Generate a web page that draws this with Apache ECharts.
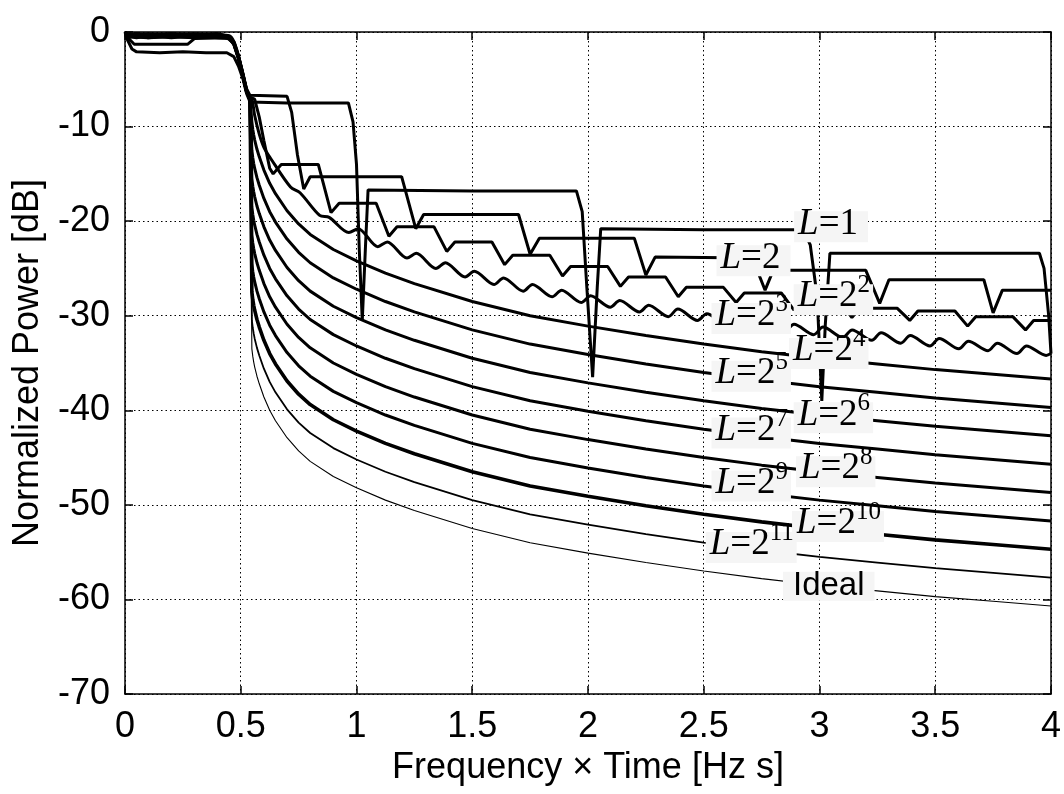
<!DOCTYPE html>
<html><head><meta charset="utf-8">
<script src="https://cdn.jsdelivr.net/npm/echarts@6/dist/echarts.min.js"></script>
<style>html,body{margin:0;padding:0;background:#fff}#c{width:1064px;height:794px}</style>
</head><body><div id="c"></div>
<script>
// ---- data ----
const xSmooth = [0,0.05,0.1,0.2,0.3,0.4,0.45,0.47,0.49,0.51,0.525,0.54,0.548,0.552,0.556,0.56,0.57,0.58,0.6,0.625,0.65,0.7,0.75,0.8,0.9,1.0,1.125,1.25,1.5,1.75,2.0,2.25,2.5,2.75,3.0,3.25,3.5,3.75,4.0];

const ideal  = [-0.1,-0.2,-0.1,-0.2,-0.1,-0.2,-0.4,-1.0,-2.5,-4.5,-6.2,-7.0,-33.5,-34.3,-34.9,-35.4,-36.4,-37.2,-38.6,-40.0,-41.1,-42.9,-44.3,-45.4,-47.0,-48.2,-49.5,-50.6,-52.5,-54.0,-55.1,-56.1,-57.0,-57.8,-58.5,-59.1,-59.7,-60.2,-60.7];
const L2048 = [-0.2,-0.3,-0.2,-0.3,-0.2,-0.3,-0.4,-1.0,-2.5,-4.5,-6.2,-7.0,-30.5,-31.3,-31.9,-32.4,-33.4,-34.2,-35.6,-37.0,-38.1,-39.9,-41.3,-42.4,-44.0,-45.2,-46.5,-47.6,-49.5,-51.0,-52.1,-53.1,-54.0,-54.8,-55.5,-56.1,-56.7,-57.2,-57.7];
const L1024 = [-0.3,-0.2,-0.3,-0.2,-0.3,-0.2,-0.5,-1.1,-2.6,-4.6,-6.2,-7.0,-27.5,-28.3,-28.9,-29.4,-30.4,-31.2,-32.6,-34.0,-35.1,-36.9,-38.3,-39.4,-41.0,-42.2,-43.5,-44.6,-46.5,-48.0,-49.1,-50.1,-51.0,-51.8,-52.5,-53.1,-53.7,-54.2,-54.7];
const L512  = [-0.2,-0.4,-0.2,-0.4,-0.2,-0.4,-0.5,-1.1,-2.6,-4.6,-6.2,-7.0,-24.5,-25.3,-25.9,-26.4,-27.4,-28.2,-29.6,-31.0,-32.1,-33.9,-35.3,-36.4,-38.0,-39.2,-40.5,-41.6,-43.5,-45.0,-46.1,-47.1,-48.0,-48.8,-49.5,-50.1,-50.7,-51.2,-51.7];
const L256  = [-0.4,-0.2,-0.4,-0.2,-0.4,-0.2,-0.5,-1.1,-2.6,-4.6,-6.2,-7.0,-21.5,-22.3,-22.9,-23.4,-24.4,-25.2,-26.6,-28.0,-29.1,-30.9,-32.3,-33.4,-35.0,-36.2,-37.5,-38.6,-40.5,-42.0,-43.1,-44.1,-45.0,-45.8,-46.5,-47.1,-47.7,-48.2,-48.7];
const L128  = [-0.3,-0.5,-0.3,-0.5,-0.3,-0.5,-0.6,-1.2,-2.7,-4.7,-6.3,-7.0,-18.5,-19.3,-19.9,-20.4,-21.4,-22.2,-23.6,-25.0,-26.1,-27.9,-29.3,-30.4,-32.0,-33.2,-34.5,-35.6,-37.5,-39.0,-40.1,-41.1,-42.0,-42.8,-43.5,-44.1,-44.7,-45.2,-45.7];
const L64   = [-0.5,-0.3,-0.5,-0.3,-0.5,-0.3,-0.6,-1.2,-2.7,-4.7,-6.3,-7.0,-15.5,-16.3,-16.9,-17.4,-18.4,-19.2,-20.6,-22.0,-23.1,-24.9,-26.3,-27.4,-29.0,-30.2,-31.5,-32.6,-34.5,-36.0,-37.1,-38.1,-39.0,-39.8,-40.5,-41.1,-41.7,-42.2,-42.7];
const L32   = [-0.4,-0.6,-0.4,-0.6,-0.4,-0.6,-0.7,-1.3,-2.8,-4.8,-6.3,-7.0,-12.5,-13.3,-13.9,-14.4,-15.4,-16.2,-17.6,-19.0,-20.1,-21.9,-23.3,-24.4,-26.0,-27.2,-28.5,-29.6,-31.5,-33.0,-34.1,-35.1,-36.0,-36.8,-37.5,-38.1,-38.7,-39.2,-39.7];
const L16   = [-0.6,-0.4,-0.6,-0.4,-0.6,-0.4,-0.7,-1.3,-2.8,-4.8,-6.3,-7.0,-9.5,-10.3,-10.9,-11.4,-12.4,-13.2,-14.6,-16.0,-17.1,-18.9,-20.3,-21.4,-23.0,-24.2,-25.5,-26.6,-28.5,-30.0,-31.1,-32.1,-33.0,-33.8,-34.5,-35.1,-35.7,-36.2,-36.7];

const L8 = [[0,0],[0.02,-0.3],[0.1,-0.2],[0.2,-0.3],[0.3,-0.2],[0.4,-0.3],[0.45,-0.4],[0.47,-1.0],[0.49,-2.5],[0.51,-4.5],[0.525,-6.2],[0.54,-7.0],[0.55,-7.3],[0.56,-8.8],[0.58,-10.8],[0.6,-12.2],[0.63,-13.4],[0.715,-16.4],[0.756,-17.0],[0.841,-19.4],[0.882,-19.6],[0.967,-21.2],[1.007,-20.8],[1.092,-22.7],[1.133,-22.2],[1.218,-23.9],[1.258,-23.4],[1.343,-25.0],[1.384,-24.4],[1.469,-25.9],[1.509,-25.3],[1.594,-26.7],[1.635,-26.0],[1.72,-27.4],[1.76,-26.7],[1.845,-28.0],[1.886,-27.3],[1.971,-28.6],[2.011,-27.9],[2.096,-29.1],[2.137,-28.4],[2.222,-29.6],[2.262,-28.9],[2.347,-30.1],[2.388,-29.3],[2.473,-30.5],[2.513,-29.8],[2.598,-30.9],[2.639,-30.2],[2.724,-31.3],[2.764,-30.5],[2.849,-31.7],[2.89,-30.9],[2.975,-32.0],[3.015,-31.2],[3.1,-32.3],[3.141,-31.5],[3.226,-32.6],[3.266,-31.8],[3.351,-32.9],[3.392,-32.1],[3.477,-33.2],[3.517,-32.4],[3.602,-33.5],[3.643,-32.7],[3.728,-33.7],[3.768,-32.9],[3.853,-34.0],[3.894,-33.2],[3.979,-34.2],[4.0,-34.0]];

const L4 = [[0,0],[0.02,-0.5],[0.1,-0.6],[0.2,-0.5],[0.3,-0.6],[0.4,-0.5],[0.45,-0.6],[0.47,-1.1],[0.49,-2.6],[0.51,-4.6],[0.525,-6.2],[0.54,-6.9],[0.56,-7.1],[0.58,-9.0],[0.6,-11.5],[0.625,-14.4],[0.64,-15.0],[0.675,-14.0],[0.835,-14.0],[0.89,-19.1],[0.925,-18.1],[1.085,-18.1],[1.14,-21.6],[1.175,-20.6],[1.335,-20.6],[1.39,-23.2],[1.425,-22.2],[1.585,-22.2],[1.64,-24.6],[1.675,-23.6],[1.835,-23.6],[1.89,-25.8],[1.925,-24.8],[2.085,-24.8],[2.14,-26.9],[2.175,-25.9],[2.335,-25.9],[2.39,-28.0],[2.425,-27.0],[2.585,-27.0],[2.64,-28.6],[2.675,-27.6],[2.835,-27.6],[2.89,-29.4],[2.925,-28.4],[3.085,-28.4],[3.14,-30.2],[3.175,-29.2],[3.335,-29.2],[3.39,-30.5],[3.425,-29.5],[3.585,-29.5],[3.64,-31.1],[3.675,-30.1],[3.835,-30.1],[3.89,-31.5],[3.925,-30.5],[4.0,-30.5]];

const L2 = [[0,0],[0.02,-0.8],[0.04,-1.3],[0.27,-1.3],[0.3,-0.7],[0.44,-0.6],[0.47,-1.2],[0.49,-2.6],[0.51,-4.5],[0.525,-6.0],[0.54,-6.7],[0.7,-6.8],[0.72,-8.5],[0.745,-13.0],[0.772,-16.6],[0.8,-15.3],[1.195,-15.3],[1.256,-20.8],[1.29,-19.3],[1.7,-19.3],[1.75,-23.5],[1.79,-21.8],[2.2,-21.8],[2.25,-25.7],[2.29,-23.8],[2.71,-23.9],[2.765,-27.3],[2.8,-25.2],[3.2,-25.2],[3.26,-28.7],[3.3,-26.2],[3.71,-26.2],[3.75,-29.7],[3.79,-27.3],[4.0,-27.3]];

const L1 = [[0,0],[0.01,-0.8],[0.03,-1.8],[0.05,-2.1],[0.15,-2.2],[0.25,-2.1],[0.35,-2.2],[0.44,-2.2],[0.47,-2.6],[0.49,-3.6],[0.51,-5.0],[0.525,-6.5],[0.54,-7.4],[0.7,-7.5],[0.965,-7.5],[0.985,-9.5],[1.0,-14.0],[1.012,-23.0],[1.025,-30.5],[1.04,-22.0],[1.05,-16.7],[1.5,-16.8],[1.95,-16.8],[1.975,-19.0],[1.995,-27.0],[2.02,-36.5],[2.04,-27.0],[2.055,-20.8],[2.5,-20.9],[2.93,-20.9],[2.96,-22.5],[2.99,-28.0],[3.01,-39.0],[3.025,-31.0],[3.045,-23.4],[3.5,-23.4],[3.95,-23.4],[3.97,-25.0],[3.99,-30.0],[4.0,-34.0]];

const labelText = ['{i|L}{n|=1}','{i|L}{n|=2}','{i|L}{n|=2}{s|2}','{i|L}{n|=2}{s|3}','{i|L}{n|=2}{s|4}','{i|L}{n|=2}{s|5}','{i|L}{n|=2}{s|6}','{i|L}{n|=2}{s|7}','{i|L}{n|=2}{s|8}','{i|L}{n|=2}{s|9}','{i|L}{n|=2}{s|10}','{i|L}{n|=2}{s|11}','{a|Ideal}'];
const labelX = [3.05,2.715,3.06,2.705,3.04,2.705,3.06,2.705,3.07,2.705,3.08,2.705,3.04];
const labelY = [-20.6,-24.2,-28.3,-30.3,-34.0,-36.4,-40.8,-42.4,-46.5,-48.0,-52.3,-54.5,-58.6];

// ---- chart ----
const SANS = 'Liberation Sans, Arial, sans-serif';
const SERIF = 'Liberation Serif, Times New Roman, serif';
const zip = (xs, ys) => xs.map((x, i) => [x, ys[i]]);

function lineSeries(data, width, smooth) {
  return { type: 'line', data: data, showSymbol: false, symbol: 'none', silent: true,
    smooth: smooth || false,
    lineStyle: { color: '#000', width: width }, z: 3, animation: false, clip: true };
}

const series = [
  lineSeries(zip(xSmooth, ideal), 1.1),
  lineSeries(zip(xSmooth, L2048), 1.8),
  lineSeries(zip(xSmooth, L1024), 3.6),
  lineSeries(zip(xSmooth, L512), 3),
  lineSeries(zip(xSmooth, L256), 3),
  lineSeries(zip(xSmooth, L128), 3),
  lineSeries(zip(xSmooth, L64), 3),
  lineSeries(zip(xSmooth, L32), 3),
  lineSeries(zip(xSmooth, L16), 3),
  lineSeries(L8, 3, 0.3),
  lineSeries(L4, 3),
  lineSeries(L2, 3),
  lineSeries(L1, 3),
  {
    type: 'scatter', silent: true, z: 10, animation: false,
    symbol: 'circle', symbolSize: 2, itemStyle: { color: 'rgba(0,0,0,0)' },
    data: labelText.map((t, i) => ({
      value: [labelX[i], labelY[i]],
      label: { show: true, formatter: t, padding: (i < 2 ? [0, 10, 0, 4] : (i === 12 ? [0, 10, 0, 10] : [0, 3, 0, 4])) }
    })),
    label: {
      show: true, position: 'inside', backgroundColor: '#f5f5f5', color: '#000', opacity: 1,
      rich: {
        i: { fontFamily: SERIF, fontStyle: 'italic', fontSize: 37, lineHeight: 31, color: '#000', verticalAlign: 'bottom' },
        n: { fontFamily: SERIF, fontSize: 37, lineHeight: 31, color: '#000', verticalAlign: 'bottom' },
        s: { fontFamily: SERIF, fontSize: 25, lineHeight: 14, padding: [0, 0, 17, 0], color: '#000', verticalAlign: 'bottom' },
        a: { fontFamily: SANS, fontSize: 33, lineHeight: 29, color: '#000' }
      }
    },
    labelLayout: { hideOverlap: false }
  }
];

const axisLineStyle = { color: '#000', width: 1.5 };
const gridLine = { show: true, lineStyle: { color: '#000', width: 1, type: [1.5, 3] } };

const option = {
  backgroundColor: '#fff',
  animation: false,
  grid: { left: 125, right: 6, top: 32, bottom: 100, containLabel: false },
  xAxis: [
    { type: 'value', min: 0, max: 4, interval: 0.5, position: 'bottom',
      name: 'Frequency \u00d7 Time [Hz s]', nameLocation: 'middle', nameGap: 51,
      nameTextStyle: { fontFamily: SANS, fontSize: 36, color: '#000' },
      axisLine: { show: true, onZero: false, lineStyle: axisLineStyle },
      axisTick: { show: true, inside: true, length: 8, lineStyle: axisLineStyle },
      axisLabel: { fontFamily: SANS, fontSize: 36, color: '#000', margin: 15 },
      splitLine: gridLine },
    { type: 'value', min: 0, max: 4, interval: 0.5, position: 'top',
      axisLine: { show: true, onZero: false, lineStyle: axisLineStyle },
      axisTick: { show: true, inside: true, length: 8, lineStyle: axisLineStyle },
      axisLabel: { show: false }, splitLine: { show: false } }
  ],
  yAxis: [
    { type: 'value', min: -70, max: 0, interval: 10, position: 'left',
      name: 'Normalized Power [dB]', nameLocation: 'middle', nameGap: 79,
      nameTextStyle: { fontFamily: SANS, fontSize: 36, color: '#000' },
      axisLine: { show: true, onZero: false, lineStyle: axisLineStyle },
      axisTick: { show: true, inside: true, length: 8, lineStyle: axisLineStyle },
      axisLabel: { fontFamily: SANS, fontSize: 36, color: '#000', margin: 15 },
      splitLine: gridLine },
    { type: 'value', min: -70, max: 0, interval: 10, position: 'right',
      axisLine: { show: true, onZero: false, lineStyle: axisLineStyle },
      axisTick: { show: true, inside: true, length: 8, lineStyle: axisLineStyle },
      axisLabel: { show: false }, splitLine: { show: false } }
  ],
  series: series
};

const chart = echarts.init(document.getElementById('c'), null, { renderer: 'canvas' });
chart.setOption(option);
</script>
</body></html>
